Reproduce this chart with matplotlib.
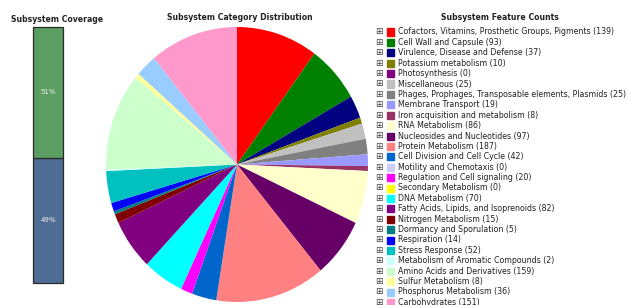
import matplotlib
matplotlib.use("Agg")
import matplotlib.pyplot as plt

W, H = 628, 305
categories = [
    "Cofactors, Vitamins, Prosthetic Groups, Pigments",
    "Cell Wall and Capsule",
    "Virulence, Disease and Defense",
    "Potassium metabolism",
    "Photosynthesis",
    "Miscellaneous",
    "Phages, Prophages, Transposable elements, Plasmids",
    "Membrane Transport",
    "Iron acquisition and metabolism",
    "RNA Metabolism",
    "Nucleosides and Nucleotides",
    "Protein Metabolism",
    "Cell Division and Cell Cycle",
    "Motility and Chemotaxis",
    "Regulation and Cell signaling",
    "Secondary Metabolism",
    "DNA Metabolism",
    "Fatty Acids, Lipids, and Isoprenoids",
    "Nitrogen Metabolism",
    "Dormancy and Sporulation",
    "Respiration",
    "Stress Response",
    "Metabolism of Aromatic Compounds",
    "Amino Acids and Derivatives",
    "Sulfur Metabolism",
    "Phosphorus Metabolism",
    "Carbohydrates",
]
counts = [139, 93, 37, 10, 0, 25, 25, 19, 8, 86, 97, 187, 42, 0, 20, 0, 70,
          82, 15, 5, 14, 52, 2, 159, 8, 36, 151]
colors = ["#ff0000", "#008000", "#000080", "#808000", "#800080", "#c0c0c0",
          "#808080", "#9999ff", "#993366", "#ffffcc", "#660066", "#ff8080",
          "#0066cc", "#ccccff", "#ff00ff", "#ffff00", "#00ffff", "#800080",
          "#800000", "#008080", "#0000ff", "#00c0c0", "#ccffff", "#ccffcc",
          "#ffff99", "#99ccff", "#ff99cc"]

coverage_labels = ["49%", "51%"]
coverage_values = [49, 51]
coverage_colors = ["#4f6d94", "#5a9e62"]

fig = plt.figure(figsize=(W / 100, H / 100), dpi=100)
fig.patch.set_facecolor("white")


def px_axes(x0, y0, x1, y1):
    return fig.add_axes([x0 / W, 1 - y1 / H, (x1 - x0) / W, (y1 - y0) / H])


def fx(x):
    return x / W


def fy(y):
    return 1 - y / H


FONT = "DejaVu Sans"
TITLE_SIZE = 5.6

# ---- Coverage bar ----
axc = px_axes(33, 27, 63, 283)
bottom = 0
for v, c, lab in zip(coverage_values, coverage_colors, coverage_labels):
    bars = axc.bar(0, v, bottom=bottom, width=1.0, color=c,
                   edgecolor="#2a2a2a", linewidth=0.9)
    for b in bars:
        b.set_clip_on(False)
    axc.text(0, bottom + v / 2, lab, ha="center", va="center",
             color="#f0f0f0", fontsize=5.0, family=FONT)
    bottom += v
axc.set_xlim(-0.5, 0.5)
axc.set_ylim(0, sum(coverage_values))
axc.axis("off")
fig.text(fx(57), fy(19), "Subsystem Coverage", ha="center", va="center",
         fontsize=TITLE_SIZE, fontweight="bold", family=FONT, color="#222222")

# ---- Pie ----
axp = px_axes(106, 27, 368, 302)
axp.pie(counts, colors=colors, startangle=90, counterclock=False,
        radius=1, wedgeprops=dict(linewidth=0), frame=False)
axp.set_aspect("auto")
axp.set_xlim(-1, 1)
axp.set_ylim(-1, 1)
axp.axis("off")
fig.text(fx(240), fy(18), "Subsystem Category Distribution", ha="center",
         va="center", fontsize=TITLE_SIZE, fontweight="bold", family=FONT,
         color="#222222")

# ---- Legend ----
fig.text(fx(500), fy(18), "Subsystem Feature Counts", ha="center",
         va="center", fontsize=TITLE_SIZE, fontweight="bold", family=FONT,
         color="#222222")
for i, (cat, n, c) in enumerate(zip(categories, counts, colors)):
    y = 32 + i * 10.4
    fig.text(fx(379), fy(y), "\u229e", ha="center", va="center", fontsize=6.5,
             family=FONT, color="#444444")
    fig.patches.append(plt.Rectangle((fx(387), fy(y + 3.5)), 7 / W, 7 / H,
                                     transform=fig.transFigure, color=c,
                                     figure=fig))
    fig.text(fx(398), fy(y), f"{cat} ({n})", ha="left", va="center",
             fontsize=5.65, family=FONT, color="#222222")

fig.savefig("out.png", dpi=100, facecolor="white")
